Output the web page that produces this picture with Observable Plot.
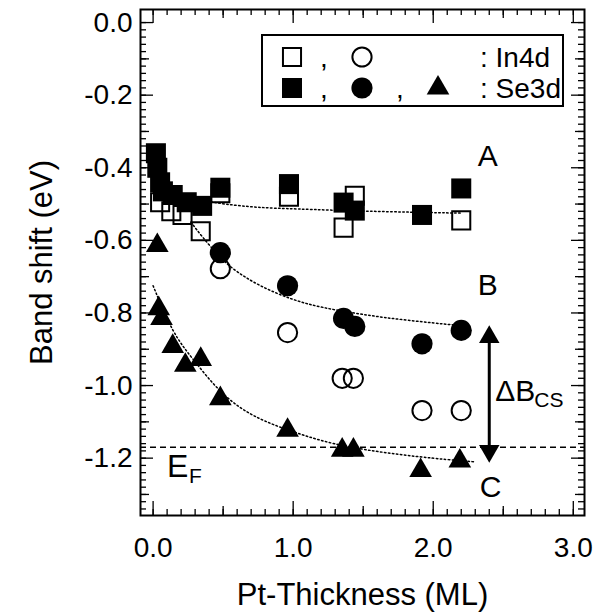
<!DOCTYPE html>
<html><head><meta charset="utf-8">
<script src="https://cdn.jsdelivr.net/npm/d3@7"></script>
<script src="https://cdn.jsdelivr.net/npm/@observablehq/plot@0.6"></script>
<style>
body{margin:0;background:#fff;}
#wrap{position:relative;width:608px;height:612px;font-family:"Liberation Sans",Arial,sans-serif;}
#legend{position:absolute;left:0;top:0;pointer-events:none;}
</style></head><body><div id="wrap"></div>
<script>
// ---- data (Pt thickness in ML, band shift in eV) ----
const in4dSquareX = [0.05, 0.13, 0.21, 0.34, 0.48, 0.97, 1.36, 1.44, 2.20];
const in4dSquareY = [-0.495, -0.52, -0.53, -0.575, -0.47, -0.48, -0.565, -0.477, -0.545];
const se3dSquareX = [0.02, 0.03, 0.05, 0.07, 0.14, 0.24, 0.35, 0.48, 0.97, 1.36, 1.44, 1.92, 2.20];
const se3dSquareY = [-0.36, -0.40, -0.44, -0.465, -0.475, -0.495, -0.505, -0.455, -0.445, -0.496, -0.518, -0.53, -0.457];
const in4dCircleX = [0.48, 0.96, 1.35, 1.43, 1.92, 2.20];
const in4dCircleY = [-0.678, -0.854, -0.98, -0.98, -1.069, -1.069];
const se3dCircleX = [0.48, 0.96, 1.36, 1.44, 1.92, 2.20];
const se3dCircleY = [-0.634, -0.725, -0.815, -0.837, -0.885, -0.848];
const se3dTriangleX = [0.03, 0.04, 0.06, 0.14, 0.23, 0.34, 0.48, 0.96, 1.35, 1.43, 1.91, 2.19];
const se3dTriangleY = [-0.614, -0.788, -0.815, -0.892, -0.944, -0.928, -1.036, -1.123, -1.178, -1.178, -1.234, -1.208];

// dotted guide curves
const fitAX = [0.02, 0.10, 0.20, 0.35, 0.50, 0.75, 1.00, 1.50, 2.20];
const fitAY = [-0.40, -0.45, -0.475, -0.49, -0.50, -0.51, -0.513, -0.52, -0.525];
const fitBX = [0.27, 0.35, 0.45, 0.55, 0.75, 1.00, 1.20, 1.50, 1.80, 2.20];
const fitBY = [-0.55, -0.59, -0.635, -0.675, -0.725, -0.765, -0.785, -0.805, -0.82, -0.835];
const fitCX = [0.00, 0.14, 0.28, 0.48, 0.71, 1.05, 1.36, 1.91, 2.29];
const fitCY = [-0.725, -0.857, -0.925, -1.022, -1.088, -1.135, -1.17, -1.198, -1.21];

const fermiLevel = -1.17;
const arrowX = 2.40, arrowTop = -0.835, arrowBottom = -1.212;

const xTickValues = [0, 1, 2, 3];
const yTickValues = [0, -0.2, -0.4, -0.6, -0.8, -1.0, -1.2];
const xTitle = "Pt-Thickness (ML)";
const yTitle = "Band shift (eV)";
const letterLabels = ["A", "B", "C"];
const letterX = [2.39, 2.39, 2.41];
const letterY = [-0.369, -0.725, -1.28];

const pts = (xs, ys) => xs.map((x, i) => ({x, y: ys[i]}));

// ---- layout ----
const W = 608, H = 612, mL = 140, mR = 24, mT = 9, mB = 97;
const fH = H - mT - mB, fW = W - mL - mR;
const font = "Liberation Sans, Arial, Helvetica, sans-serif";

const xMinor = d3.range(0, 3.001, 0.1).map(d => +d.toFixed(2));
const xHalf = [0.5, 1.5, 2.5];
const yMinor = d3.range(0, -1.3501, -0.02).map(d => +d.toFixed(2));
const yMid = d3.range(-0.1, -1.3501, -0.2).map(d => +d.toFixed(2));

const tk = {stroke: "#000", strokeWidth: 1.3};
const fmt = d => (d === 0 ? "0.0" : d.toFixed(1));

const chart = Plot.plot({
  width: W, height: H,
  marginLeft: mL, marginRight: mR, marginTop: mT, marginBottom: mB,
  x: {domain: [-0.09, 3.08], label: null},
  y: {domain: [-1.358, 0.036], label: null},
  style: {fontFamily: font, fontSize: "28px", color: "#000", background: "#fff", overflow: "visible"},
  marks: [
    // inward tick marks on all four sides
    Plot.tickX(xMinor, {x: d => d, insetTop: fH - 6, ...tk}),
    Plot.tickX(xHalf, {x: d => d, insetTop: fH - 9, ...tk}),
    Plot.tickX(xTickValues, {x: d => d, insetTop: fH - 14, ...tk}),
    Plot.tickX(xMinor, {x: d => d, insetBottom: fH - 6, ...tk}),
    Plot.tickX(xHalf, {x: d => d, insetBottom: fH - 9, ...tk}),
    Plot.tickX(xTickValues, {x: d => d, insetBottom: fH - 14, ...tk}),
    Plot.tickY(yMinor, {y: d => d, insetRight: fW - 6, ...tk}),
    Plot.tickY(yMid, {y: d => d, insetRight: fW - 9, ...tk}),
    Plot.tickY(yTickValues, {y: d => d, insetRight: fW - 13, ...tk}),
    Plot.tickY(yMinor, {y: d => d, insetLeft: fW - 6, ...tk}),
    Plot.tickY(yMid, {y: d => d, insetLeft: fW - 9, ...tk}),
    Plot.tickY(yTickValues, {y: d => d, insetLeft: fW - 13, ...tk}),
    Plot.frame({stroke: "#000", strokeWidth: 2}),
    Plot.axisX(xTickValues, {tickSize: 0, tickPadding: 22, tickFormat: fmt, fontSize: 28, label: null}),
    Plot.axisY(yTickValues, {tickSize: 0, tickPadding: 8, tickFormat: fmt, fontSize: 28, label: null}),
    Plot.text([xTitle], {text: d => d, frameAnchor: "bottom", dy: 80, lineAnchor: "middle", textAnchor: "middle", fontSize: 31, fill: "#000"}),
    Plot.text([yTitle], {text: d => d, frameAnchor: "left", dx: -98, rotate: -90, lineAnchor: "middle", textAnchor: "middle", fontSize: 31, fill: "#000"}),

    // Fermi level and guide curves
    Plot.ruleY([fermiLevel], {stroke: "#000", strokeWidth: 1.5, strokeDasharray: "6,4"}),
    Plot.line(pts(fitAX, fitAY), {x: "x", y: "y", curve: "basis", stroke: "#000", strokeWidth: 1.5, strokeDasharray: "1.5,2.5"}),
    Plot.line(pts(fitBX, fitBY), {x: "x", y: "y", curve: "basis", stroke: "#000", strokeWidth: 1.5, strokeDasharray: "1.5,2.5"}),
    Plot.line(pts(fitCX, fitCY), {x: "x", y: "y", curve: "basis", stroke: "#000", strokeWidth: 1.5, strokeDasharray: "1.5,2.5"}),

    // open symbols: In4d
    Plot.dot(pts(in4dSquareX, in4dSquareY), {x: "x", y: "y", symbol: "square", r: 10.2, fill: "none", stroke: "#000", strokeWidth: 2}),
    Plot.dot(pts(in4dCircleX, in4dCircleY), {x: "x", y: "y", symbol: "circle", r: 9.6, fill: "none", stroke: "#000", strokeWidth: 2}),
    // filled symbols: Se3d
    Plot.dot(pts(se3dSquareX, se3dSquareY), {x: "x", y: "y", symbol: "square", r: 11.3, fill: "#000", stroke: "none"}),
    Plot.dot(pts(se3dCircleX, se3dCircleY), {x: "x", y: "y", symbol: "circle", r: 10.6, fill: "#000", stroke: "none"}),
    Plot.dot(pts(se3dTriangleX, se3dTriangleY), {x: "x", y: "y", symbol: "triangle", r: 8.4, fill: "#000", stroke: "none"}),

    // ΔB_CS double arrow
    Plot.ruleX([arrowX], {y1: arrowTop, y2: arrowBottom, stroke: "#000", strokeWidth: 3, insetTop: 12, insetBottom: 12}),
    Plot.dot([arrowX], {x: d => d, y: () => arrowTop, symbol: "triangle", r: 7.6, fill: "#000", dy: 11.5}),
    Plot.dot([arrowX], {x: d => d, y: () => arrowBottom, symbol: "triangle", r: 7.6, fill: "#000", dy: -11.5, rotate: 180}),

    // annotations
    Plot.text(letterLabels, {x: (d, i) => letterX[i], y: (d, i) => letterY[i], text: d => d, fontSize: 30, textAnchor: "middle", fill: "#000"}),
    Plot.text(["\u0394B"], {x: () => 2.443, y: () => -1.017, text: d => d, fontSize: 30, textAnchor: "start", fill: "#000"}),
    Plot.text(["CS"], {x: () => 2.443, y: () => -1.017, text: d => d, fontSize: 21, textAnchor: "start", dx: 39, dy: 9, fill: "#000"}),
    Plot.text(["E"], {x: () => 0.10, y: () => -1.223, text: d => d, fontSize: 32, textAnchor: "start", fill: "#000"}),
    Plot.text(["F"], {x: () => 0.10, y: () => -1.223, text: d => d, fontSize: 21, textAnchor: "start", dx: 22, dy: 10, fill: "#000"})
  ]
});

const wrap = document.getElementById("wrap");
wrap.appendChild(chart);

// ---- legend box (drawn as an overlay) ----
const ns = "http://www.w3.org/2000/svg";
const lg = d3.select(wrap).append("svg").attr("id", "legend").attr("width", W).attr("height", H)
  .style("font-family", font).style("font-size", "28px");
lg.append("rect").attr("x", 262).attr("y", 35).attr("width", 301).attr("height", 71)
  .attr("fill", "#fff").attr("stroke", "#000").attr("stroke-width", 2);
const sym = (type, size) => d3.symbol().type(type).size(size)();
const row1 = 57, row2 = 88;
lg.append("path").attr("d", sym(d3.symbolSquare, 327)).attr("transform", `translate(292,${row1})`).attr("fill", "none").attr("stroke", "#000").attr("stroke-width", 2);
lg.append("path").attr("d", sym(d3.symbolCircle, 290)).attr("transform", `translate(362,${row1})`).attr("fill", "none").attr("stroke", "#000").attr("stroke-width", 2);
lg.append("path").attr("d", sym(d3.symbolSquare, 400)).attr("transform", `translate(292,${row2})`).attr("fill", "#000");
lg.append("path").attr("d", sym(d3.symbolCircle, 353)).attr("transform", `translate(362,${row2})`).attr("fill", "#000");
lg.append("path").attr("d", sym(d3.symbolTriangle, 222)).attr("transform", `translate(438,${row2})`).attr("fill", "#000");
lg.append("text").attr("x", 324).attr("y", row1 + 10).attr("text-anchor", "middle").text(",");
lg.append("text").attr("x", 324).attr("y", row2 + 10).attr("text-anchor", "middle").text(",");
lg.append("text").attr("x", 400).attr("y", row2 + 10).attr("text-anchor", "middle").text(",");
lg.append("text").attr("x", 480).attr("y", row1 + 10).text(": In4d");
lg.append("text").attr("x", 480).attr("y", row2 + 10).text(": Se3d");
</script></body></html>
